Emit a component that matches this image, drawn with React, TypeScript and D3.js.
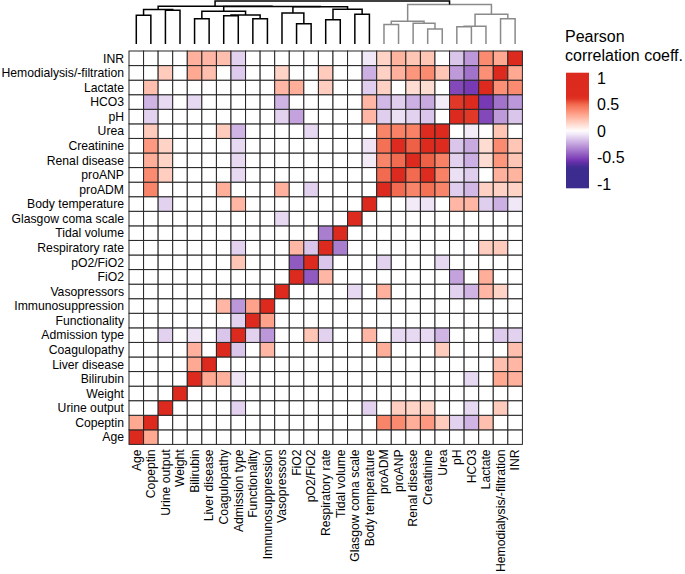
import React from "react";
import * as d3 from "d3";

const variables = [
  "Age", "Copeptin", "Urine output", "Weight", "Bilirubin", "Liver disease",
  "Coagulopathy", "Admission type", "Functionality", "Immunosuppression",
  "Vasopressors", "FiO2", "pO2/FiO2", "Respiratory rate", "Tidal volume",
  "Glasgow coma scale", "Body temperature", "proADM", "proANP", "Renal disease",
  "Creatinine", "Urea", "pH", "HCO3", "Lactate", "Hemodialysis/-filtration", "INR",
];

// Off-diagonal Pearson correlations [variable A, variable B, r]; unlisted pairs ~0
const correlations: [string, string, number][] = [
  ["Copeptin", "Age", 0.3],
  ["Liver disease", "Bilirubin", 0.3],
  ["Coagulopathy", "Bilirubin", 0.27],
  ["Admission type", "Urine output", -0.12],
  ["Admission type", "Bilirubin", -0.07],
  ["Admission type", "Coagulopathy", -0.15],
  ["Functionality", "Admission type", -0.12],
  ["Immunosuppression", "Coagulopathy", 0.25],
  ["Immunosuppression", "Admission type", -0.28],
  ["Immunosuppression", "Functionality", 0.32],
  ["pO2/FiO2", "Admission type", 0.2],
  ["pO2/FiO2", "FiO2", -0.45],
  ["Respiratory rate", "Admission type", -0.12],
  ["Respiratory rate", "FiO2", 0.25],
  ["Respiratory rate", "pO2/FiO2", -0.15],
  ["Tidal volume", "Respiratory rate", -0.35],
  ["Glasgow coma scale", "Vasopressors", -0.1],
  ["Body temperature", "Urine output", -0.12],
  ["Body temperature", "Admission type", 0.25],
  ["proADM", "Copeptin", 0.42],
  ["proADM", "Coagulopathy", 0.28],
  ["proADM", "Vasopressors", 0.27],
  ["proADM", "pO2/FiO2", -0.12],
  ["proANP", "Copeptin", 0.4],
  ["proANP", "Urine output", 0.17],
  ["proANP", "Admission type", -0.1],
  ["proANP", "proADM", 0.5],
  ["Renal disease", "Copeptin", 0.28],
  ["Renal disease", "Urine output", 0.15],
  ["Renal disease", "Admission type", -0.1],
  ["Renal disease", "Body temperature", -0.05],
  ["Renal disease", "proADM", 0.42],
  ["Renal disease", "proANP", 0.5],
  ["Creatinine", "Copeptin", 0.35],
  ["Creatinine", "Urine output", 0.15],
  ["Creatinine", "Admission type", -0.1],
  ["Creatinine", "Body temperature", -0.07],
  ["Creatinine", "proADM", 0.48],
  ["Creatinine", "proANP", 0.65],
  ["Creatinine", "Renal disease", 0.52],
  ["Urea", "Copeptin", 0.18],
  ["Urea", "Coagulopathy", 0.18],
  ["Urea", "Admission type", -0.2],
  ["Urea", "pO2/FiO2", -0.1],
  ["Urea", "proADM", 0.42],
  ["Urea", "proANP", 0.43],
  ["Urea", "Renal disease", 0.43],
  ["Urea", "Creatinine", 0.7],
  ["pH", "Copeptin", -0.12],
  ["pH", "FiO2", -0.25],
  ["pH", "Vasopressors", -0.12],
  ["pH", "Body temperature", 0.25],
  ["pH", "proADM", -0.13],
  ["pH", "proANP", -0.08],
  ["pH", "Renal disease", -0.12],
  ["pH", "Creatinine", -0.15],
  ["HCO3", "Copeptin", -0.2],
  ["HCO3", "Urine output", -0.1],
  ["HCO3", "Bilirubin", -0.1],
  ["HCO3", "Vasopressors", -0.2],
  ["HCO3", "Body temperature", 0.25],
  ["HCO3", "proADM", -0.19],
  ["HCO3", "proANP", -0.13],
  ["HCO3", "Renal disease", -0.21],
  ["HCO3", "Creatinine", -0.23],
  ["HCO3", "Urea", -0.05],
  ["HCO3", "pH", 0.6],
  ["Lactate", "Copeptin", 0.22],
  ["Lactate", "Vasopressors", 0.25],
  ["Lactate", "FiO2", 0.28],
  ["Lactate", "Respiratory rate", 0.17],
  ["Lactate", "Body temperature", -0.13],
  ["Lactate", "proADM", 0.16],
  ["Lactate", "Renal disease", 0.12],
  ["Lactate", "Creatinine", 0.12],
  ["Lactate", "pH", -0.5],
  ["Lactate", "HCO3", -0.54],
  ["Hemodialysis/-filtration", "Urine output", 0.18],
  ["Hemodialysis/-filtration", "Bilirubin", 0.3],
  ["Hemodialysis/-filtration", "Liver disease", 0.22],
  ["Hemodialysis/-filtration", "Admission type", -0.14],
  ["Hemodialysis/-filtration", "Vasopressors", 0.15],
  ["Hemodialysis/-filtration", "Respiratory rate", 0.18],
  ["Hemodialysis/-filtration", "Body temperature", -0.21],
  ["Hemodialysis/-filtration", "proADM", 0.16],
  ["Hemodialysis/-filtration", "proANP", 0.27],
  ["Hemodialysis/-filtration", "Renal disease", 0.36],
  ["Hemodialysis/-filtration", "Creatinine", 0.4],
  ["Hemodialysis/-filtration", "Urea", 0.2],
  ["Hemodialysis/-filtration", "pH", -0.27],
  ["Hemodialysis/-filtration", "HCO3", -0.38],
  ["Hemodialysis/-filtration", "Lactate", 0.38],
  ["INR", "Bilirubin", 0.27],
  ["INR", "Liver disease", 0.25],
  ["INR", "Coagulopathy", 0.22],
  ["INR", "Admission type", -0.12],
  ["INR", "Body temperature", -0.06],
  ["INR", "proADM", 0.15],
  ["INR", "proANP", 0.26],
  ["INR", "Renal disease", 0.2],
  ["INR", "Creatinine", 0.2],
  ["INR", "pH", -0.15],
  ["INR", "HCO3", -0.28],
  ["INR", "Lactate", 0.4],
  ["INR", "Hemodialysis/-filtration", 0.3],
];

// Column dendrogram: [height, left, right] or leaf name
type Node = string | [number, Node, Node];
const treeBlack: Node = [0.88,
  [0.8, [0.667, "Age", "Copeptin"], [0.786, "Urine output", "Weight"]],
  [0.87,
    [0.762, [0.588, "Bilirubin", "Liver disease"],
      [0.675, [0.655, "Coagulopathy", "Admission type"], [0.588, "Functionality", "Immunosuppression"]]],
    [0.865, [0.72, "Vasopressors", [0.469, "FiO2", "pO2/FiO2"]],
      [0.81, [0.564, "Respiratory rate", "Tidal volume"], [0.69, "Glasgow coma scale", "Body temperature"]]],
  ],
];
const treeGrey: Node = [0.92,
  [0.53, [0.452, "proADM", "proANP"], [0.48, "Renal disease", [0.35, "Creatinine", "Urea"]]],
  [0.69, [0.41, [0.4, "pH", "HCO3"], "Lactate"], [0.588, "Hemodialysis/-filtration", "INR"]],
];
const treeRoot: Node = [1.0, treeBlack, treeGrey];

const legendTicks = [1, 0.5, 0, -0.5, -1];
const colorStops = [-1, -0.68, -0.56, 0, 0.5, 0.62, 1];
const colorValues = ["#3B2C8E", "#3E2C91", "#7231B1", "#FFFFFF", "#F26A4F", "#DE2B1F", "#DC2A1E"];

const FONT = "'Liberation Sans', Arial, Helvetica, sans-serif";

export default function App() {
  const gridLeft = 129, gridTop = 51, gridSize = 393.4;
  const x = d3.scaleBand<string>().domain(variables).range([gridLeft, gridLeft + gridSize]);
  const y = d3.scaleBand<string>().domain([...variables].reverse()).range([gridTop, gridTop + gridSize]);
  const bw = x.bandwidth();

  const color = d3.scaleLinear<string>().domain(colorStops).range(colorValues)
    .interpolate(d3.interpolateLab).clamp(true);

  const idx = new Map(variables.map((v, i) => [v, i]));
  const m: number[][] = variables.map((_, i) => variables.map((__, j) => (i === j ? 1 : 0)));
  correlations.forEach(([a, b, r]) => {
    const i = idx.get(a)!, j = idx.get(b)!;
    m[i][j] = r; m[j][i] = r;
  });

  // dendrogram
  const yD = d3.scaleLinear().domain([0, 1]).range([44, 1]);
  const segs: { d: string; c: string }[] = [];
  const walk = (n: Node, col: string): { x: number; y: number } => {
    if (typeof n === "string") return { x: (x(n) as number) + bw / 2, y: yD(0) };
    const c = n === treeGrey ? "#8a8a8a" : col;
    const l = walk(n[1], c);
    const r = walk(n[2], c);
    const ny = yD(n[0]);
    const p = d3.path();
    p.moveTo(l.x, l.y); p.lineTo(l.x, ny); p.lineTo(r.x, ny); p.lineTo(r.x, r.y);
    segs.push({ d: p.toString(), c: n === treeRoot ? "#000" : c });
    return { x: (l.x + r.x) / 2, y: ny };
  };
  walk(treeRoot, "#000");

  const ly = d3.scaleLinear().domain([1, -1]).range([78, 184]);
  const barTop = 72.7, barBottom = 188.3;
  const gradStops = d3.range(0, 41).map((k) => {
    const t = k / 40;
    const v = ly.invert(barTop + t * (barBottom - barTop));
    return { off: t, c: color(v) };
  });

  return (
    <svg width={685} height={574} style={{ position: "absolute", left: 0, top: 0, background: "#fff" }}
      fontFamily={FONT}>
      <defs>
        <linearGradient id="lg" x1="0" y1="0" x2="0" y2="1">
          {gradStops.map((s, i) => (
            <stop key={i} offset={s.off} stopColor={s.c} />
          ))}
        </linearGradient>
      </defs>
      <g>
        {segs.map((s, i) => (
          <path key={i} d={s.d} fill="none" stroke={s.c} strokeWidth={1.5} />
        ))}
      </g>
      <g>
        {variables.map((rv) =>
          variables.map((cv) => (
            <rect key={rv + "|" + cv} x={x(cv)} y={y(rv)} width={bw} height={bw}
              fill={color(m[idx.get(rv)!][idx.get(cv)!])} stroke="#262626" strokeWidth={1} />
          ))
        )}
      </g>
      <g fontSize={12.2} fill="#000">
        {variables.map((v) => (
          <text key={"r" + v} x={gridLeft - 5} y={(y(v) as number) + bw / 2} dy="0.35em" textAnchor="end">{v}</text>
        ))}
        {variables.map((v) => (
          <text key={"c" + v} transform={`translate(${(x(v) as number) + bw / 2},${gridTop + gridSize + 5}) rotate(-90)`}
            dy="0.35em" textAnchor="end">{v}</text>
        ))}
      </g>
      <g fontSize={16} fill="#000">
        <text x={565} y={42}>Pearson</text>
        <text x={565} y={61}>correlation coeff.</text>
        <rect x={566} y={barTop} width={23} height={barBottom - barTop} fill="url(#lg)" />
        {legendTicks.map((t) => (
          <text key={t} x={597} y={ly(t)} dy="0.35em">{String(t)}</text>
        ))}
      </g>
    </svg>
  );
}
